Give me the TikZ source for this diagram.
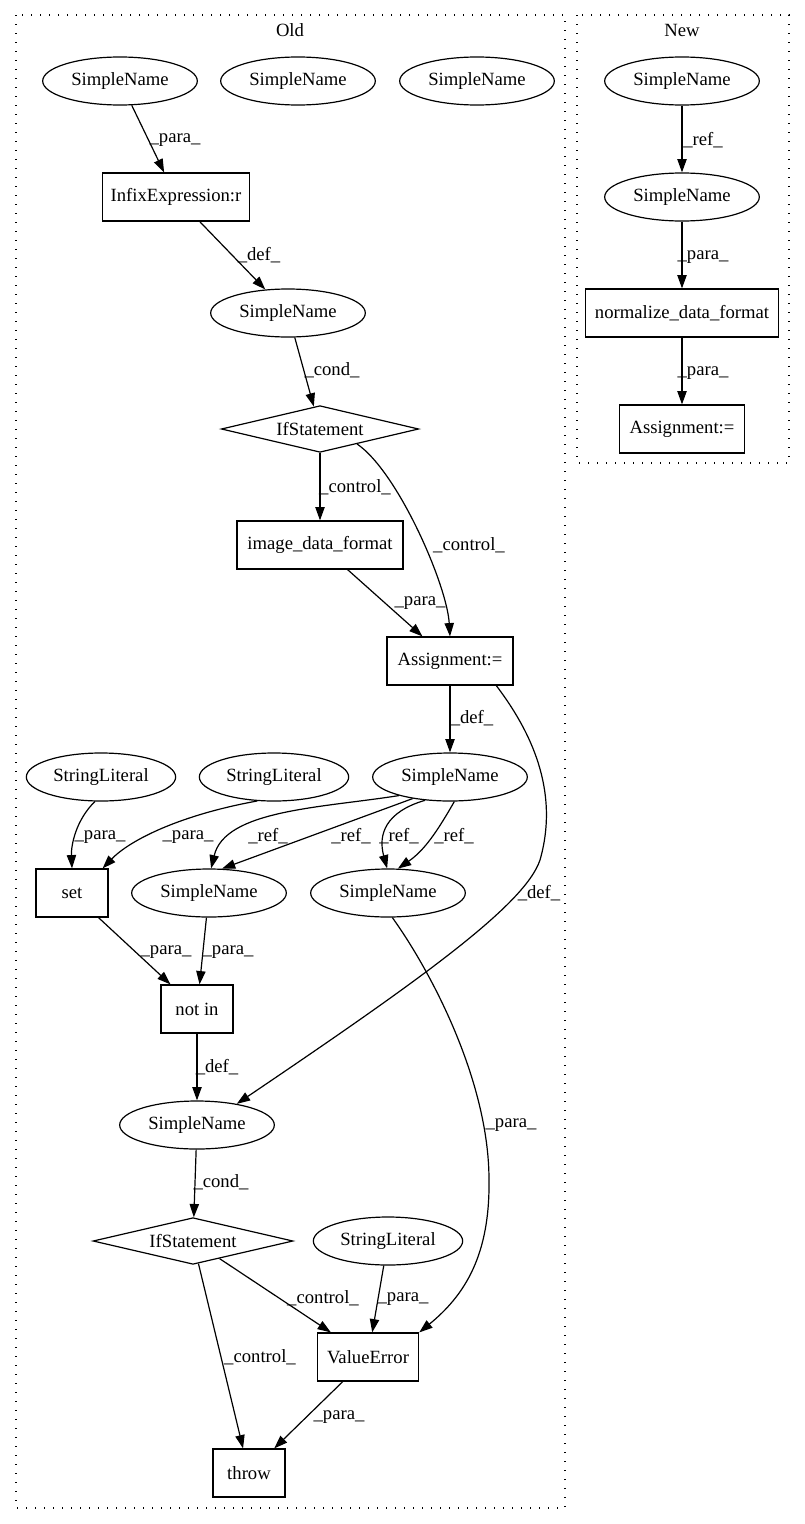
\documentclass[tikz,border=0pt]{standalone}
\usepackage{fontspec}
\setmainfont{Liberation Serif}
\usetikzlibrary{shapes.geometric,arrows.meta}
\begin{document}
\begin{tikzpicture}[x=0.75pt,y=-0.75pt,
  every node/.style={font=\fontsize{14pt}{16pt}\selectfont},
  ell/.style={draw,ellipse,line width=0.9pt,inner sep=0pt,minimum width=116pt,minimum height=36pt},
  slit/.style={ell,minimum width=112pt},
  box/.style={draw,rectangle,line width=0.9pt,inner sep=0pt,minimum height=36pt},
  dia/.style={draw,diamond,shape aspect=4,line width=0.9pt,inner sep=0pt,minimum height=35pt},
  conn/.style={line width=0.9pt,-{Triangle[length=10pt,width=7pt]}},
  lab/.style={inner sep=0pt},
  cluster/.style={line width=0.9pt,dash pattern=on 1pt off 5.75pt}
]
\useasboundingbox (0,0) rectangle (805,1524);
% clusters
\draw[cluster] (16,15) rectangle (565,1508);
\node[lab] (oldlbl) at (290,30) {Old};
\draw[cluster] (577,15) rectangle (789,463);
\node[lab] (newlbl) at (682,30) {New};

% Old nodes
\node[ell] (sna) at (120,81) {SimpleName};
\node[ell] (snb) at (298,81) {SimpleName};
\node[ell] (snc) at (477,81) {SimpleName};
\node[box,minimum width=110pt] (infix) at (176,197) {InfixExpression:r};
\node[ell] (snd) at (288,313) {SimpleName};
\node[dia,minimum width=148pt] (ifa) at (320,429) {IfStatement};
\node[box,minimum width=124.5pt] (img) at (320,545) {image\_data\_format};
\node[box,minimum width=94.5pt] (asg) at (450,661) {Assignment:=};
\node[slit] (sla) at (101,777) {StringLiteral};
\node[slit] (slb) at (274,777) {StringLiteral};
\node[ell] (sne) at (450,777) {SimpleName};
\node[box,minimum width=54pt] (set) at (72,893) {set};
\node[ell] (snf) at (209,893) {SimpleName};
\node[ell] (sng) at (388,893) {SimpleName};
\node[box,minimum width=54pt] (notin) at (197,1009) {not in};
\node[ell] (snh) at (197,1125) {SimpleName};
\node[dia,minimum width=150pt] (ifb) at (193,1241) {IfStatement};
\node[slit] (slc) at (388,1241) {StringLiteral};
\node[box,minimum width=76pt] (ve) at (368,1357) {ValueError};
\node[box,minimum width=54pt] (throw) at (249,1473) {throw};

% New nodes
\node[ell] (nsna) at (682,81) {SimpleName};
\node[ell] (nsnb) at (682,197) {SimpleName};
\node[box,minimum width=145pt] (norm) at (682,313) {normalize\_data\_format};
\node[box,minimum width=94pt] (nasg) at (682,429) {Assignment:=};

% Old edges
\draw[conn] (sna) -- (infix);
\node[lab] (l1) at (175,140) {\_para\_};
\draw[conn] (infix) -- (snd);
\node[lab] (l2) at (259,255) {\_def\_};
\draw[conn] (snd) -- (ifa);
\node[lab] (l3) at (332,370) {\_cond\_};
\draw[conn] (ifa) -- (img);
\node[lab] (l4) at (355,487) {\_control\_};
\draw[conn] (ifa.-22) .. controls (398,472) and (447,585) .. (asg.north);
\node[lab] (l5) at (469,545) {\_control\_};
\draw[conn] (img) -- (asg);
\node[lab] (l6) at (420,603) {\_para\_};
\draw[conn] (asg) -- (sne);
\node[lab] (l7) at (472,718) {\_def\_};
\draw[conn] (asg.-28) .. controls (530,730) and (560,790) .. (540,860)
  .. controls (525,905) and (420,980) .. (snh.28);
\node[lab] (l8) at (539,893) {\_def\_};
\draw[conn] (sla.-104) .. controls (76,820) and (71,845) .. (set.north);
\node[lab] (l9) at (100,837) {\_para\_};
\draw[conn] (slb.-125) .. controls (180,815) and (130,840) .. ([xshift=-4.5pt]set.north east);
\node[lab] (l10) at (188,837) {\_para\_};
\draw[conn] (sne.-160) .. controls (320,808) and (225,810) .. (snf.85);
\node[lab] (l11) at (268,836) {\_ref\_};
\draw[conn] (sne.-150) -- (snf.62);
\node[lab] (l12) at (351,836) {\_ref\_};
\draw[conn] (sne.-137) .. controls (385,812) and (378,835) .. (sng.92);
\node[lab] (l13) at (399,836) {\_ref\_};
\draw[conn] (sne.-80) .. controls (438,830) and (425,850) .. (sng.68);
\node[lab] (l14) at (454,836) {\_ref\_};
\draw[conn] (set) -- (notin);
\node[lab] (l15) at (166,952) {\_para\_};
\draw[conn] (snf) -- (notin);
\node[lab] (l16) at (228,952) {\_para\_};
\draw[conn] (notin) -- (snh);
\node[lab] (l17) at (217,1067) {\_def\_};
\draw[conn] (snh) -- (ifb);
\node[lab] (l18) at (221,1182) {\_cond\_};
\draw[conn] (ifb) -- (throw);
\node[lab] (l19) at (260,1357) {\_control\_};
\draw[conn] (ifb) -- (ve);
\node[lab] (l20) at (323,1298) {\_control\_};
\draw[conn] (slc) -- (ve);
\node[lab] (l21) at (403,1299) {\_para\_};
\draw[conn] (sng.-80) .. controls (430,970) and (489,1080) .. (489,1180)
  .. controls (490,1255) and (465,1295) .. (ve.north east);
\node[lab] (l22) at (511,1125) {\_para\_};
\draw[conn] (ve) -- (throw);
\node[lab] (l23) at (339,1417) {\_para\_};

% New edges
\draw[conn] (nsna) -- (nsnb);
\node[lab] (l24) at (703,140) {\_ref\_};
\draw[conn] (nsnb) -- (norm);
\node[lab] (l25) at (703,257) {\_para\_};
\draw[conn] (norm) -- (nasg);
\node[lab] (l26) at (703,373) {\_para\_};
\end{tikzpicture}
\end{document}
